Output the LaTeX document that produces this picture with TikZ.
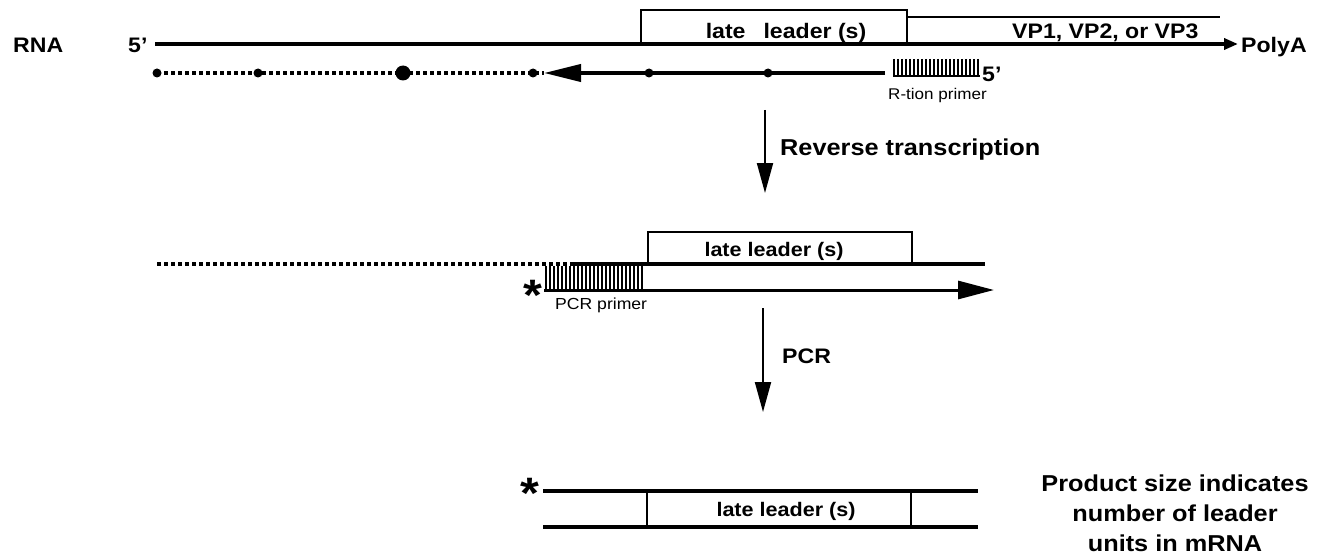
\documentclass[tikz,border=0pt]{standalone}
\usepackage{fontspec}
\setmainfont[FakeStretch=1.1]{Liberation Sans}
\usetikzlibrary{arrows.meta}
\begin{document}
\begin{tikzpicture}[x=1pt,y=-1pt,
  strand/.style={line width=4pt},
  thinline/.style={line width=1.5pt},
  dotted strand/.style={line width=3.5pt,dash pattern=on 3.5pt off 3.5pt},
  downarrow/.style={line width=2pt,-{Triangle[length=30pt,width=16pt]}},
  lbl/.style={font=\bfseries\fontsize{21}{24}\selectfont,inner sep=0pt},
  small/.style={font=\fontsize{15.5}{18}\selectfont,inner sep=0pt},
  star/.style={font=\bfseries\fontsize{44}{44}\selectfont,inner sep=0pt},
  dot/.style={circle,fill=black,inner sep=0pt,minimum size=#1},
  tick/.style={line width=1.3pt}
]
\useasboundingbox (0,0) rectangle (1338,559);

% ---------- RNA ----------
\node[lbl,anchor=base west] (rna) at (13,53) {RNA};
\node[lbl,anchor=base west] (p5a) at (128,53) {5'};
\coordinate (r0) at (155,44);
\coordinate (r1) at (1238,44);
\draw[strand,-{Triangle[length=14pt,width=11pt]}] (r0) -- (r1);
\node[lbl,anchor=base west] (polya) at (1241,53) {PolyA};

% late leader box on the RNA
\coordinate (b1bl) at (641,44);
\coordinate (b1tl) at (641,10);
\coordinate (b1tr) at (907,10);
\coordinate (b1br) at (907,44);
\draw[thinline] (b1bl) -- (b1tl) -- (b1tr) -- (b1br);
\node[lbl,anchor=base] (ll1) at (786,39) {late\hspace{18pt}leader (s)};
\coordinate (vp0) at (907,17);
\coordinate (vp1) at (1220,17);
\draw[thinline] (vp0) -- (vp1);
\node[lbl,anchor=base west] (vp) at (1012,39) {VP1, VP2, or VP3};

% R-tion primer
\foreach \x in {894,898,...,978} \draw[tick] (\x,59) -- (\x,77);
\coordinate (rp0) at (893,76.5);
\coordinate (rp1) at (980,76.5);
\draw[line width=2pt] (rp0) -- (rp1);
\node[lbl,anchor=base west] (p5b) at (982,82) {5'};
\node[small,anchor=base west] (rtion) at (888,100) {R-tion primer};

% cDNA being extended
\coordinate (c0) at (157,73);
\coordinate (c1) at (544,73);
\coordinate (c2) at (885,73);
\draw[dotted strand] (c0) -- (c1);
\draw[strand,-{Triangle[length=37pt,width=17pt]}] (c2) -- (c1);
\node[dot=9pt] (d1) at (157,73) {};
\node[dot=9pt] (d2) at (258,73) {};
\node[dot=15pt] (d3) at (403,73) {};
\node[dot=9pt] (d4) at (533,73) {};
\node[dot=9pt] (d5) at (649,73) {};
\node[dot=9pt] (d6) at (768,73) {};

% ---------- reverse transcription ----------
\coordinate (a1) at (765,110);
\coordinate (a2) at (765,193);
\draw[downarrow] (a1) -- (a2);
\node[lbl,anchor=base west,font=\bfseries\fontsize{23}{26}\selectfont] (rt) at (780,156) {Reverse transcription};

% ---------- cDNA with PCR primer ----------
\coordinate (e0) at (157,264);
\coordinate (e1) at (570,264);
\coordinate (e2) at (985,264);
\draw[dotted strand] (e0) -- (e1);
\draw[strand] (e1) -- (e2);
\coordinate (b2bl) at (648,264);
\coordinate (b2tl) at (648,232);
\coordinate (b2tr) at (912,232);
\coordinate (b2br) at (912,264);
\draw[thinline] (b2bl) -- (b2tl) -- (b2tr) -- (b2br);
\node[lbl,anchor=base,font=\bfseries\fontsize{19.6}{22}\selectfont] (ll2) at (774,256) {late leader (s)};

\foreach \x in {546,550,...,644} \draw[tick] (\x,266) -- (\x,290);
\coordinate (f0) at (544,290);
\coordinate (f1) at (994,290);
\draw[line width=3pt,-{Triangle[length=36pt,width=18pt]}] (f0) -- (f1);
\node[star,anchor=center] (s1) at (533,295) {*};
\node[small,anchor=base west,font=\fontsize{16}{18}\selectfont] (pcrp) at (555,309) {PCR primer};

% ---------- PCR ----------
\coordinate (g1) at (763,308);
\coordinate (g2) at (763,412);
\draw[downarrow] (g1) -- (g2);
\node[lbl,anchor=base west] (pcr) at (782,363) {PCR};

% ---------- product ----------
\coordinate (h0) at (543,491);
\coordinate (h1) at (978,491);
\coordinate (k0) at (543,527);
\coordinate (k1) at (978,527);
\draw[strand] (h0) -- (h1);
\draw[strand] (k0) -- (k1);
\coordinate (v1a) at (647,491);
\coordinate (v1b) at (647,527);
\coordinate (v2a) at (911,491);
\coordinate (v2b) at (911,527);
\draw[thinline] (v1a) -- (v1b);
\draw[thinline] (v2a) -- (v2b);
\node[lbl,anchor=base,font=\bfseries\fontsize{19.6}{22}\selectfont] (ll3) at (786,516) {late leader (s)};
\node[star,anchor=center] (s2) at (530,493) {*};

\begin{scope}[every node/.style={lbl,anchor=base,font=\bfseries\fontsize{23}{26}\selectfont}]
  \node (note1) at (1175,491) {Product size indicates};
  \node (note2) at (1175,521) {number of leader};
  \node (note3) at (1175,551) {units in mRNA};
\end{scope}
\end{tikzpicture}
\end{document}
